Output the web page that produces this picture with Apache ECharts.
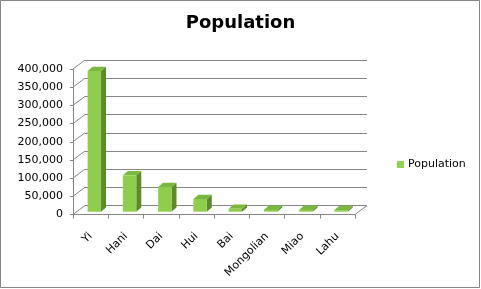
<!DOCTYPE html>
<html>
<head>
<meta charset="utf-8">
<script src="https://cdn.jsdelivr.net/npm/echarts@6/dist/echarts.min.js"></script>
<style>
html,body{margin:0;padding:0;background:#fff;}
#c{width:481px;height:289px;}
</style>
</head>
<body>
<div id="c"></div>
<script>
const categories = ['Yi', 'Hani', 'Dai', 'Hui', 'Bai', 'Mongolian', 'Miao', 'Lahu'];
const population = [387000, 100000, 68000, 35000, 8000, 5000, 5000, 4500];
const yTickValues = [0, 50000, 100000, 150000, 200000, 250000, 300000, 350000, 400000];
const seriesName = 'Population';
const chartTitle = 'Population';

const FONT = 'DejaVu Sans';
const GRID_COLOR = '#868686';
const DEPTH_X = 12, DEPTH_Y = -9;       // wall depth offset
const BAR_DX = 3.7, BAR_DY = -2.8;      // bar front depth offset
const BAR_SX = 5, BAR_SY = -4.3;        // bar depth
const FRONT = '#8FCE4C', TOP = '#7BB83E', SIDE = '#5C8C2A';

const chart = echarts.init(document.getElementById('c'), null, {renderer: 'canvas'});

const fmt = v => Number(v).toLocaleString('en-US');

const option = {
  animation: false,
  backgroundColor: '#fff',
  title: {
    text: chartTitle,
    left: 'center',
    top: 14,
    padding: 0,
    textStyle: {fontFamily: FONT, fontSize: 18, fontWeight: 'bold', color: '#000'}
  },
  legend: {
    data: [seriesName],
    left: 397,
    top: 159,
    padding: 0,
    itemWidth: 7,
    itemHeight: 7,
    itemGap: 5,
    icon: 'rect',
    textStyle: {fontFamily: FONT, fontSize: 11, color: '#000', padding: [0, 0, 0, -1]}
  },
  graphic: [{
    type: 'rect',
    shape: {x: 0.5, y: 0.5, width: 479, height: 287},
    style: {fill: 'none', stroke: GRID_COLOR, lineWidth: 1},
    silent: true,
    z: -10
  }],
  grid: [
    {left: 73, right: 126, top: 69, bottom: 74.5},
    {left: 73 + DEPTH_X, right: 126 - DEPTH_X, top: 69 + DEPTH_Y, bottom: 74.5 - DEPTH_Y}
  ],
  xAxis: [
    {
      type: 'category', gridIndex: 0, data: categories,
      axisLine: {show: true, lineStyle: {color: GRID_COLOR, width: 1}},
      axisTick: {show: true, length: 4, lineStyle: {color: GRID_COLOR}},
      axisLabel: {rotate: 45, margin: 20, fontFamily: FONT, fontSize: 11, color: '#000', interval: 0}
    },
    {
      type: 'category', gridIndex: 1, data: categories,
      axisLine: {show: false}, axisTick: {show: false}, axisLabel: {show: false}
    }
  ],
  yAxis: [
    {
      type: 'value', gridIndex: 0, min: 0, max: 400000, interval: 50000,
      axisLine: {show: true, lineStyle: {color: GRID_COLOR, width: 1}},
      axisTick: {show: true, length: 3, lineStyle: {color: GRID_COLOR}},
      axisLabel: {margin: 10, fontFamily: FONT, fontSize: 11, color: '#000', formatter: fmt},
      splitLine: {show: false}
    },
    {
      type: 'value', gridIndex: 1, min: 0, max: 400000, interval: 50000,
      axisLine: {show: false}, axisTick: {show: false}, axisLabel: {show: false},
      splitLine: {show: true, lineStyle: {color: GRID_COLOR, width: 1}}
    }
  ],
  series: [
    {
      type: 'custom',
      name: 'walls',
      xAxisIndex: 0, yAxisIndex: 0,
      silent: true,
      z: 1,
      data: yTickValues.map(v => [0, v]),
      renderItem: function (params, api) {
        const cs = params.coordSys;
        const v = api.value(1);
        const y = api.coord([0, v])[1];
        const children = [{
          type: 'line',
          shape: {x1: cs.x, y1: y, x2: cs.x + DEPTH_X, y2: y + DEPTH_Y},
          style: {stroke: GRID_COLOR, lineWidth: 1}
        }];
        if (v === 0) {
          children.push({
            type: 'line',
            shape: {x1: cs.x + cs.width, y1: y, x2: cs.x + cs.width + DEPTH_X, y2: y + DEPTH_Y},
            style: {stroke: GRID_COLOR, lineWidth: 1}
          });
        }
        return {type: 'group', children: children};
      }
    },
    {
      type: 'custom',
      name: seriesName,
      xAxisIndex: 0, yAxisIndex: 0,
      z: 5,
      itemStyle: {color: '#92D050'},
      data: population.map((v, i) => [i, v]),
      renderItem: function (params, api) {
        const i = api.value(0), v = api.value(1);
        const p0 = api.coord([i, 0]);
        const p1 = api.coord([i, v]);
        const cw = api.size([1, 0])[0];
        const bw = cw * 0.38;
        const xl = p0[0] + BAR_DX - bw / 2;
        const xr = xl + bw;
        const yb = p0[1] + BAR_DY;
        const yt = p1[1] + BAR_DY;
        return {
          type: 'group',
          children: [
            {type: 'polygon', shape: {points: [[xr, yt], [xr + BAR_SX, yt + BAR_SY], [xr + BAR_SX, yb + BAR_SY], [xr, yb]]}, style: {fill: SIDE}},
            {type: 'polygon', shape: {points: [[xl, yt], [xr, yt], [xr + BAR_SX, yt + BAR_SY], [xl + BAR_SX, yt + BAR_SY]]}, style: {fill: TOP}},
            {type: 'rect', shape: {x: xl, y: yt, width: bw, height: yb - yt}, style: {fill: FRONT}}
          ]
        };
      }
    }
  ]
};
chart.setOption(option);
</script>
</body>
</html>
